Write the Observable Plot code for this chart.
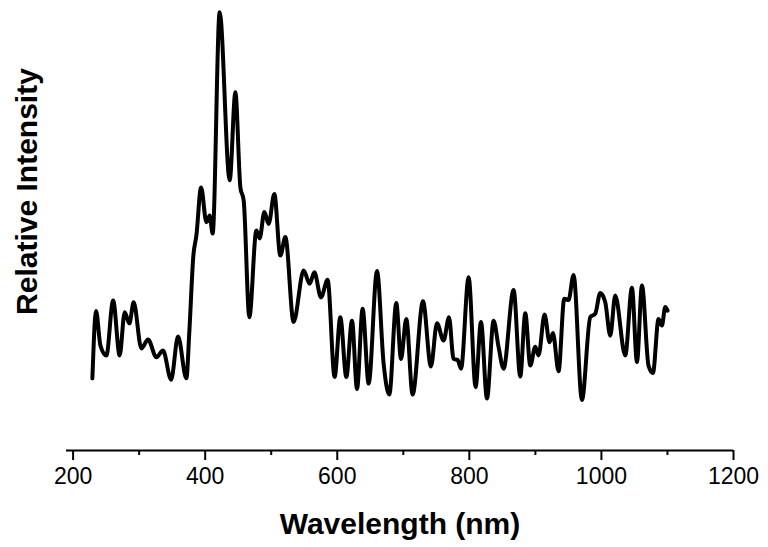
<!DOCTYPE html>
<html>
<head>
<meta charset="utf-8">
<script src="https://cdn.jsdelivr.net/npm/d3@7"></script>
<script src="https://cdn.jsdelivr.net/npm/@observablehq/plot@0.6"></script>
<style>
  html, body { margin: 0; padding: 0; background: #fff; }
  #chart { width: 768px; height: 547px; }
</style>
</head>
<body>
<div id="chart"></div>
<script>
// Spectrum (wavelength in nm, relative intensity 0–100)
const wavelength = [
  229.2, 234.8, 241.3, 250.4, 260.6, 270.5, 278.1, 285.2, 291.7, 303.4,
  313.5, 326.1, 336.2, 348.4, 358.9, 371.5, 376.1, 382.1, 386.7, 393.8,
  401.8, 406.8, 411.3, 421.9, 437.1, 445.7, 453.3, 458.3, 466.9, 477.5,
  482.5, 489.6, 496.1, 504.7, 513.8, 521.4, 533.9, 549.1, 558.2, 565.3,
  575.4, 585.4, 596.0, 604.6, 613.7, 622.3, 629.9, 638.4, 647.5, 660.2,
  670.2, 678.8, 689.4, 696.5, 704.5, 714.1, 729.8, 741.8, 751.0, 761.0,
  769.2, 776.1, 782.2, 787.4, 798.9, 809.5, 817.6, 826.7, 836.7, 844.3,
  851.8, 867.0, 877.1, 884.7, 892.3, 899.8, 904.8, 913.9, 921.5, 926.6,
  935.1, 943.7, 950.2, 957.8, 970.5, 983.1, 990.7, 998.2, 1005.8, 1013.4,
  1020.9, 1036.1, 1046.2, 1053.8, 1061.4, 1071.3, 1078.0, 1086.5, 1091.6, 1096.6,
  1100.1
];
const intensity = [
  16.4, 31.7, 23.9, 21.6, 34.1, 21.6, 31.4, 28.9, 33.7, 23.2,
  25.2, 21.2, 22.7, 16.1, 25.9, 16.4, 27.3, 44.3, 48.9, 59.8,
  51.9, 53.4, 49.3, 99.6, 61.4, 81.4, 59.8, 56.8, 30.3, 50.0,
  48.2, 54.2, 51.5, 58.3, 44.3, 48.5, 29.2, 40.9, 37.9, 40.5,
  34.8, 38.8, 16.7, 30.3, 16.7, 29.5, 14.0, 32.2, 15.2, 40.8,
  19.7, 12.7, 33.5, 20.8, 29.9, 12.7, 33.9, 19.1, 28.9, 25.0,
  30.3, 20.8, 20.6, 18.6, 39.4, 14.4, 29.2, 11.8, 29.5, 23.5,
  18.6, 36.5, 16.8, 31.2, 19.3, 23.6, 21.6, 30.9, 24.6, 26.7,
  18.0, 34.5, 34.2, 39.9, 11.5, 30.3, 31.1, 35.8, 33.7, 26.1,
  35.2, 21.6, 37.0, 20.1, 37.5, 19.3, 17.6, 29.9, 28.4, 32.6,
  31.8
];
const majorTicks = [200, 400, 600, 800, 1000, 1200];
const minorTicks = [300, 500, 700, 900, 1100];
const xTitle = "Wavelength (nm)";
const yTitle = "Relative Intensity";

const data = wavelength.map((w, i) => ({w, v: intensity[i]}));
const font = "'Liberation Sans', Arial, Helvetica, sans-serif";

const chart = Plot.plot({
  width: 768,
  height: 547,
  marginLeft: 66,
  marginRight: 35,
  marginTop: 10,
  marginBottom: 97,
  style: {fontFamily: font, fontSize: "23px", color: "#000", background: "#fff", overflow: "visible"},
  x: {domain: [190, 1200], axis: null},
  y: {domain: [0, 100], axis: null},
  marks: [
    Plot.ruleY([0], {stroke: "#000", strokeWidth: 2}),
    Plot.axisX({ticks: majorTicks, tickSize: 10, tickPadding: 7, strokeWidth: 2, stroke: "#000", fill: "#000", fontSize: 23, label: null, tickFormat: d => String(d)}),
    Plot.axisX({ticks: minorTicks, tickSize: 5, strokeWidth: 2, stroke: "#000", tickFormat: () => "", label: null}),
    Plot.line(data, {x: "w", y: "v", stroke: "#000", strokeWidth: 4, curve: "monotone-x", strokeLinejoin: "round", strokeLinecap: "round"}),
    Plot.text([xTitle], {frameAnchor: "bottom", dy: 74, lineAnchor: "middle", textAnchor: "middle", fontSize: 30, fontWeight: "bold", fill: "#000"}),
    Plot.text([yTitle], {frameAnchor: "left", rotate: -90, dx: -39, dy: -39, lineAnchor: "middle", textAnchor: "middle", fontSize: 30, fontWeight: "bold", fill: "#000"})
  ]
});
document.getElementById("chart").appendChild(chart);
</script>
</body>
</html>
